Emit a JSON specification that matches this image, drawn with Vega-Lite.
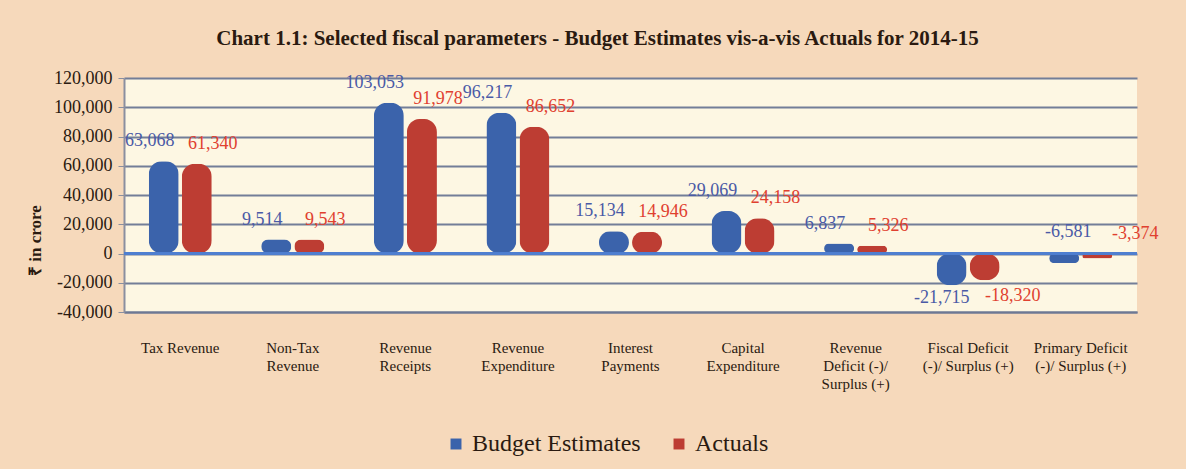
{
  "$schema": "https://vega.github.io/schema/vega-lite/v6.json",
  "width": 1013,
  "height": 234,
  "autosize": {"type": "none"},
  "padding": {"left": 124, "top": 78, "right": 49, "bottom": 157},
  "background": "#f6d9bb",
  "title": {
    "text": "Chart 1.1: Selected fiscal parameters - Budget Estimates vis-a-vis Actuals for 2014-15",
    "font": "Liberation Serif",
    "fontSize": 21,
    "fontWeight": "bold",
    "color": "#2a1a10",
    "anchor": "middle",
    "frame": "group",
    "dx": -33,
    "offset": 20
  },
  "config": {
    "view": {"fill": "#fdf7e3", "stroke": null},
    "font": "Liberation Serif",
    "locale": {"number": {"decimal": ".", "thousands": ",", "grouping": [3], "currency": ["", ""], "minus": "-"}}
  },
  "data": {
    "values": [
      {"category": "Tax Revenue", "series": "Budget Estimates", "value": 63068},
      {"category": "Tax Revenue", "series": "Actuals", "value": 61340},
      {"category": "Non-Tax|Revenue", "series": "Budget Estimates", "value": 9514},
      {"category": "Non-Tax|Revenue", "series": "Actuals", "value": 9543},
      {"category": "Revenue|Receipts", "series": "Budget Estimates", "value": 103053},
      {"category": "Revenue|Receipts", "series": "Actuals", "value": 91978},
      {"category": "Revenue|Expenditure", "series": "Budget Estimates", "value": 96217},
      {"category": "Revenue|Expenditure", "series": "Actuals", "value": 86652},
      {"category": "Interest|Payments", "series": "Budget Estimates", "value": 15134},
      {"category": "Interest|Payments", "series": "Actuals", "value": 14946},
      {"category": "Capital|Expenditure", "series": "Budget Estimates", "value": 29069},
      {"category": "Capital|Expenditure", "series": "Actuals", "value": 24158},
      {"category": "Revenue|Deficit (-)/|Surplus (+)", "series": "Budget Estimates", "value": 6837},
      {"category": "Revenue|Deficit (-)/|Surplus (+)", "series": "Actuals", "value": 5326},
      {"category": "Fiscal Deficit|(-)/ Surplus (+)", "series": "Budget Estimates", "value": -21715},
      {"category": "Fiscal Deficit|(-)/ Surplus (+)", "series": "Actuals", "value": -18320},
      {"category": "Primary Deficit|(-)/ Surplus (+)", "series": "Budget Estimates", "value": -6581},
      {"category": "Primary Deficit|(-)/ Surplus (+)", "series": "Actuals", "value": -3374}
    ]
  },
  "encoding": {
    "x": {
      "field": "category",
      "type": "nominal",
      "sort": null,
      "scale": {"paddingInner": 0.43, "paddingOuter": 0.215},
      "axis": {
        "title": null,
        "labelAngle": 0,
        "labelExpr": "split(datum.label, '|')",
        "labelFont": "Liberation Serif",
        "labelFontSize": 15,
        "labelColor": "#2a1a10",
        "labelLineHeight": 18,
        "labelPadding": 28,
        "labelBaseline": "top",
        "ticks": false,
        "domain": true,
        "domainColor": "#6d7894",
        "domainWidth": 2
      }
    },
    "xOffset": {
      "field": "series",
      "type": "nominal",
      "sort": ["Budget Estimates", "Actuals"],
      "scale": {"paddingInner": 0.06}
    },
    "y": {
      "field": "value",
      "type": "quantitative",
      "scale": {"domain": [-40000, 120000], "nice": false},
      "axis": {
        "values": [-40000, -20000, 0, 20000, 40000, 60000, 80000, 100000, 120000],
        "format": ",d",
        "title": "₹ in crore",
        "titleFont": "Liberation Serif",
        "titleFontSize": 17,
        "titleFontWeight": "bold",
        "titleColor": "#2a1a10",
        "titleX": -80,
        "titleY": 162,
        "labelFont": "Liberation Serif",
        "labelFontSize": 18,
        "labelColor": "#2a1a10",
        "labelPadding": 6,
        "grid": true,
        "gridColor": "#737e98",
        "gridWidth": 2,
        "domainColor": "#8a8fa0",
        "domainWidth": 2,
        "tickColor": "#8a8fa0",
        "tickSize": 6
      }
    }
  },
  "layer": [
    {
      "mark": {"type": "bar", "cornerRadius": 13, "width": 30},
      "encoding": {
        "color": {
          "field": "series",
          "type": "nominal",
          "sort": ["Budget Estimates", "Actuals"],
          "scale": {"domain": ["Budget Estimates", "Actuals"], "range": ["#3b63ab", "#bd3d33"]},
          "legend": {
            "title": null,
            "orient": "none",
            "direction": "horizontal",
            "legendX": 320,
            "legendY": 354,
            "symbolType": "square",
            "symbolSize": 120,
            "labelFont": "Liberation Serif",
            "labelFontSize": 24,
            "labelLimit": 400,
            "labelColor": "#2a1a10",
            "columnPadding": 26,
            "symbolStrokeWidth": 0
          }
        }
      }
    },
    {
      "mark": {"type": "rule", "color": "#4f7fd0", "strokeWidth": 2},
      "encoding": {"y": {"datum": 0}, "x": null, "xOffset": null}
    },
    {
      "transform": [{"filter": "datum.value >= 0 && datum.series === 'Budget Estimates'"}],
      "mark": {"type": "text", "dy": -20, "dx": -14, "fontSize": 18, "font": "Liberation Serif", "color": "#4a5aa6"},
      "encoding": {"text": {"field": "value", "type": "quantitative", "format": ",d"}}
    },
    {
      "transform": [{"filter": "datum.value >= 0 && datum.series === 'Actuals'"}],
      "mark": {"type": "text", "dy": -20, "dx": 16, "fontSize": 18, "font": "Liberation Serif", "color": "#e0402f"},
      "encoding": {"text": {"field": "value", "type": "quantitative", "format": ",d"}}
    },
    {
      "transform": [{"filter": "datum.value < 0 && datum.value > -10000 && datum.series === 'Budget Estimates'"}],
      "mark": {"type": "text", "dy": -31, "dx": 4, "fontSize": 18, "font": "Liberation Serif", "color": "#4a5aa6"},
      "encoding": {"text": {"field": "value", "type": "quantitative", "format": ",d"}}
    },
    {
      "transform": [{"filter": "datum.value < 0 && datum.value > -10000 && datum.series === 'Actuals'"}],
      "mark": {"type": "text", "dy": -24, "dx": 38, "fontSize": 18, "font": "Liberation Serif", "color": "#e0402f"},
      "encoding": {"text": {"field": "value", "type": "quantitative", "format": ",d"}}
    },
    {
      "transform": [{"filter": "datum.value <= -10000 && datum.series === 'Budget Estimates'"}],
      "mark": {"type": "text", "dy": 13, "dx": -10, "fontSize": 18, "font": "Liberation Serif", "color": "#4a5aa6"},
      "encoding": {"text": {"field": "value", "type": "quantitative", "format": ",d"}}
    },
    {
      "transform": [{"filter": "datum.value <= -10000 && datum.series === 'Actuals'"}],
      "mark": {"type": "text", "dy": 16, "dx": 28, "fontSize": 18, "font": "Liberation Serif", "color": "#e0402f"},
      "encoding": {"text": {"field": "value", "type": "quantitative", "format": ",d"}}
    }
  ]
}
